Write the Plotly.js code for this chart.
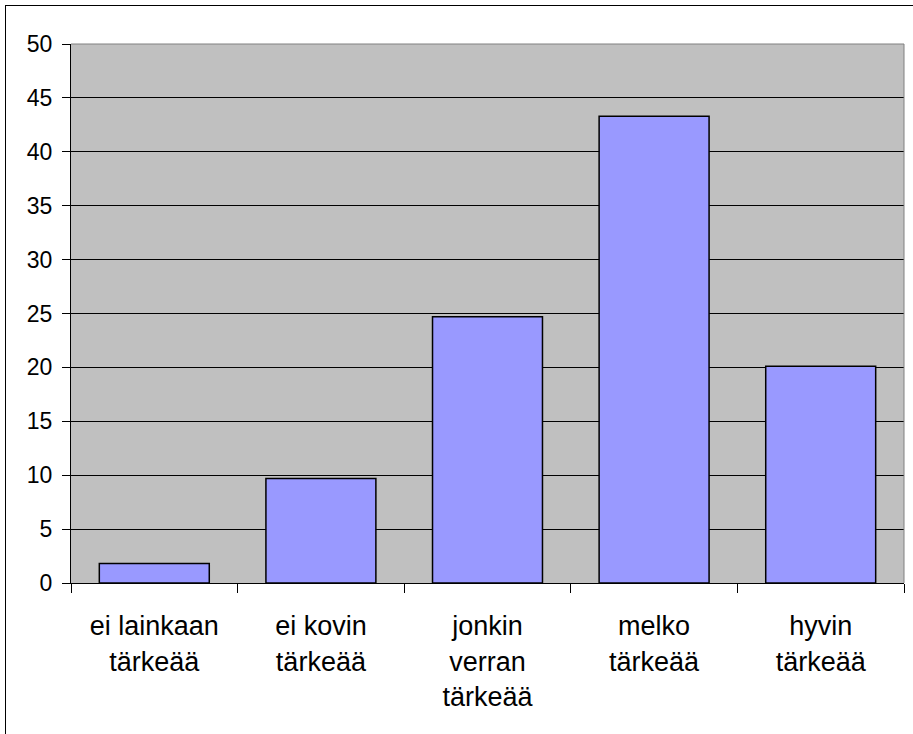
<!DOCTYPE html>
<html>
<head>
<meta charset="utf-8">
<script src="https://cdn.plot.ly/plotly-3.0.1.min.js"></script>
<style>
  html, body { margin: 0; padding: 0; background: #fff; overflow: hidden; }
  #wrap { position: relative; width: 913px; height: 734px; }
  #chart { position: absolute; left: 0; top: 0; width: 913px; height: 734px; }
  #frame { position: absolute; left: 5px; top: 5px; width: 960px; height: 800px; border: 1px solid #000; pointer-events: none; }
</style>
</head>
<body>
<div id="wrap">
  <div id="chart"></div>
  <div id="frame"></div>
</div>
<script>
const categories = [
  "ei lainkaan<br>tärkeää",
  "ei kovin<br>tärkeää",
  "jonkin<br>verran<br>tärkeää",
  "melko<br>tärkeää",
  "hyvin<br>tärkeää"
];
const values = [1.8, 9.7, 24.7, 43.3, 20.1];
const yTicks = [0, 5, 10, 15, 20, 25, 30, 35, 40, 45, 50];

const font = "Liberation Sans, Arial, sans-serif";

const data = [{
  type: "bar",
  x: categories,
  y: values,
  marker: { color: "#9999ff", line: { color: "#000000", width: 1.5 } },
  hoverinfo: "x+y"
}];

const layout = {
  width: 913,
  height: 734,
  margin: { l: 71, r: 9, t: 44, b: 151, pad: 0 },
  paper_bgcolor: "rgba(0,0,0,0)",
  plot_bgcolor: "#c0c0c0",
  bargap: 0.34,
  showlegend: false,
  font: { family: font, color: "#000" },
  xaxis: {
    type: "category",
    showline: true, linecolor: "#000", linewidth: 1,
    ticks: "outside", ticklen: 9, tickcolor: "#000", tickwidth: 1,
    tickson: "boundaries",
    ticklabelstandoff: 19,
    showgrid: false,
    tickfont: { family: font, size: 27, color: "#000" },
    fixedrange: true
  },
  yaxis: {
    range: [0, 50],
    tickvals: yTicks,
    ticktext: yTicks.map(String),
    showline: true, linecolor: "#000", linewidth: 1,
    ticks: "outside", ticklen: 8, tickcolor: "#000", tickwidth: 1,
    ticklabelstandoff: 5,
    showgrid: true, gridcolor: "#000", gridwidth: 1,
    zeroline: false,
    tickfont: { family: font, size: 23, color: "#000" },
    fixedrange: true
  },
  shapes: [
    { type: "line", xref: "paper", yref: "paper", x0: 0, x1: 1, y0: 1, y1: 1,
      line: { color: "#808080", width: 1 }, layer: "above" },
    { type: "line", xref: "paper", yref: "paper", x0: 1, x1: 1, y0: 0, y1: 1,
      line: { color: "#808080", width: 1 }, layer: "above" }
  ]
};

Plotly.newPlot("chart", data, layout, { displayModeBar: false, staticPlot: true });
</script>
</body>
</html>
